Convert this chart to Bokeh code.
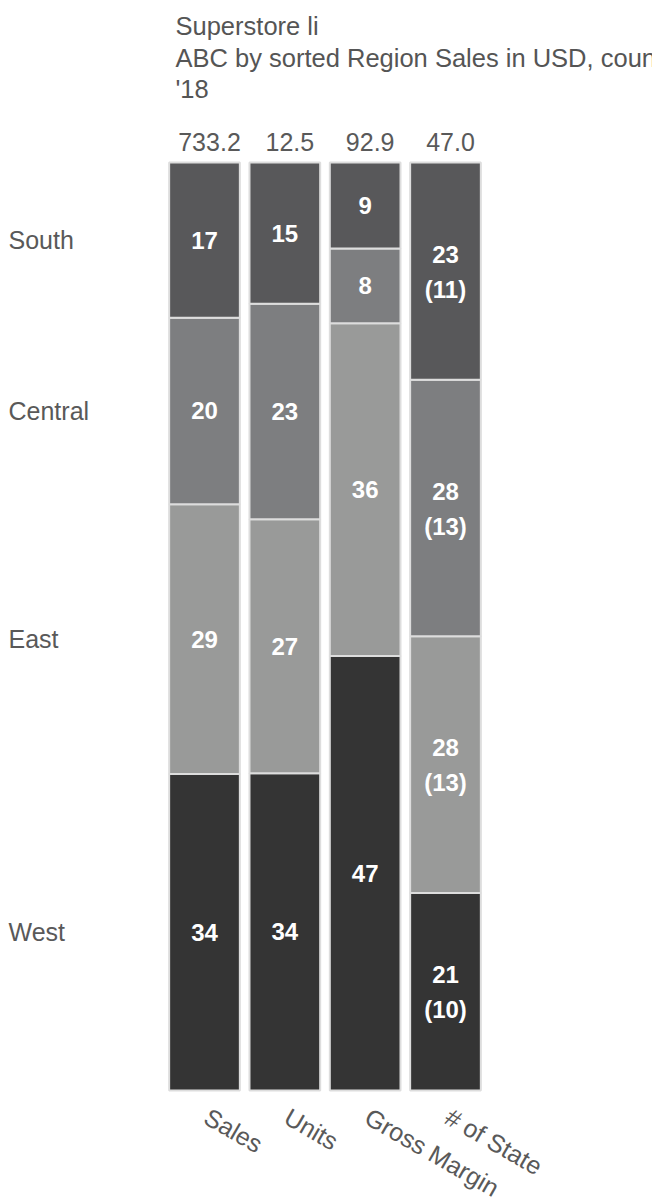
import math
from bokeh.plotting import figure
from bokeh.models import Range1d, ColumnDataSource
from bokeh.embed import file_html
from bokeh.resources import INLINE
from bokeh.core.properties import value

# ---------------- data ----------------
title_lines = ["Superstore li", "ABC by sorted Region Sales in USD, count", "'18"]
measures = ["Sales", "Units", "Gross Margin", "# of State"]
regions = ["South", "Central", "East", "West"]          # top to bottom
sales = [122.6, 147.4, 213.1, 250.1]                     # thousand USD
units = [1.90, 2.90, 3.42, 4.27]                         # thousand
gross_margin = [8.6, 7.5, 33.3, 43.5]                    # thousand USD
state_counts = [11, 13, 13, 10]
region_colors = ["#58585a", "#7d7e80", "#999a99", "#343434"]

series = [sales, units, gross_margin, state_counts]

# ---------------- layout constants (pixels) ----------------
W, H = 652, 1199
BAR_TOP, BAR_BOT = 162, 1090
X0, SP = 204.0, 80.33
YS = (BAR_BOT - BAR_TOP) / 100.0
FONT = value("Liberation Sans")
TXT = "#595959"


def px_x(px):
    return (px - X0) / SP


def px_y(py):
    return (BAR_BOT - py) / YS


p = figure(width=W, height=H, output_backend="svg", toolbar_location=None,
           x_axis_location=None, y_axis_location=None,
           x_range=Range1d(px_x(0), px_x(W)), y_range=Range1d(px_y(H), px_y(0)),
           min_border=0, background_fill_color="white", border_fill_color="white")
p.grid.visible = False
p.outline_line_color = None

# ---------------- stacked 100% bars ----------------
rows = dict(x=[], bottom=[], top=[], color=[], mid=[], lab=[], lab2=[])
mids = {}
for i, (m, vals) in enumerate(zip(measures, series)):
    total = float(sum(vals))
    cum = 0.0
    for j in reversed(range(len(regions))):
        share = vals[j] / total * 100.0
        rows["x"].append(i)
        rows["bottom"].append(cum)
        rows["top"].append(cum + share)
        rows["color"].append(region_colors[j])
        rows["mid"].append(cum + share / 2)
        rows["lab"].append(str(int(round(share))))
        rows["lab2"].append("(%d)" % vals[j] if m == "# of State" else "")
        mids[(m, regions[j])] = cum + share / 2
        cum += share

src = ColumnDataSource(rows)
p.vbar(x="x", bottom="bottom", top="top", width=0.88, fill_color="color",
       line_color="#dddddd", line_width=2, source=src)

single = ColumnDataSource({k: [v for v, x in zip(rows[k], rows["x"]) if measures[x] != "# of State"] for k in rows})
double = ColumnDataSource({k: [v for v, x in zip(rows[k], rows["x"]) if measures[x] == "# of State"] for k in rows})

p.text(x="x", y="mid", text="lab", source=single, text_align="center", text_baseline="middle",
       text_color="white", text_font=FONT, text_font_size="24px", text_font_style="bold")
p.text(x="x", y="mid", text="lab", source=double, text_align="center", text_baseline="middle",
       y_offset=-17, text_color="white", text_font=FONT, text_font_size="24px", text_font_style="bold")
p.text(x="x", y="mid", text="lab2", source=double, text_align="center", text_baseline="middle",
       y_offset=18, text_color="white", text_font=FONT, text_font_size="24px", text_font_style="bold")

# ---------------- totals above bars ----------------
totals = ["%.1f" % sum(v) for v in series]
p.text(x=list(range(len(measures))), y=[px_y(141)] * len(measures), text=totals, x_offset=5,
       text_align="center", text_baseline="alphabetic", text_color=TXT, text_font=FONT,
       text_font_size="25px")

# ---------------- region labels ----------------
p.text(x=[px_x(8)] * len(regions), y=[mids[("Sales", r)] for r in regions], text=regions,
       text_align="left", text_baseline="middle", text_color=TXT, text_font=FONT,
       text_font_size="25px")

# ---------------- measure labels (rotated) ----------------
p.text(x=list(range(len(measures))), y=[px_y(1102)] * len(measures), text=measures, x_offset=9,
       angle=-math.radians(30), text_align="left", text_baseline="top", text_color=TXT,
       text_font=FONT, text_font_size="25px")

# ---------------- title ----------------
p.text(x=[px_x(175)] * 3, y=[px_y(25), px_y(57), px_y(88)], text=title_lines,
       text_align="left", text_baseline="alphabetic", text_color="#555555", text_font=FONT,
       text_font_size="25.5px")

open("out.html", "w").write(file_html(p, INLINE))
